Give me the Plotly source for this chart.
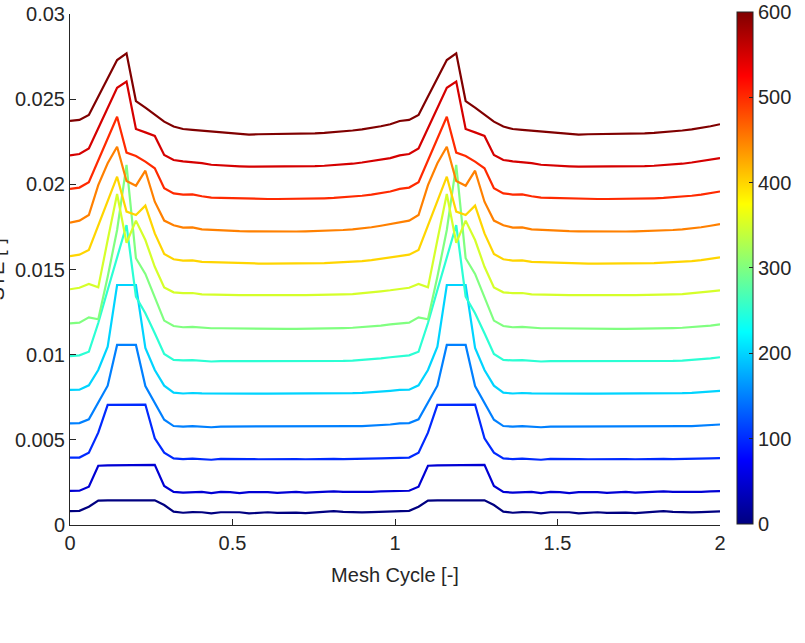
import numpy as np
import plotly.graph_objects as go

# Mesh cycle positions (70 samples over two mesh cycles)
mesh_cycle = list(np.linspace(0, 2, 70))

# Colour-bar quantity for each curve
levels = [0, 50, 100, 150, 200, 250, 300, 350, 400, 450, 500, 550, 600]

ste_000 = [0.00082, 0.00083, 0.00107, 0.00143, 0.00144, 0.00144, 0.00144, 0.00144, 0.00144, 0.00145, 0.00117, 0.00078, 0.00072, 0.00076, 0.00075, 0.00068, 0.00075, 0.00074, 0.00075, 0.00068, 0.00073, 0.00075, 0.00071, 0.00074, 0.00073, 0.00070, 0.00075, 0.00076, 0.00081, 0.00077, 0.00075, 0.00074, 0.00076, 0.00078, 0.00080,
           0.00082, 0.00083, 0.00107, 0.00143, 0.00144, 0.00144, 0.00144, 0.00144, 0.00144, 0.00145, 0.00117, 0.00078, 0.00072, 0.00076, 0.00075, 0.00068, 0.00075, 0.00074, 0.00075, 0.00068, 0.00073, 0.00075, 0.00071, 0.00074, 0.00073, 0.00070, 0.00075, 0.00076, 0.00081, 0.00077, 0.00075, 0.00074, 0.00076, 0.00078, 0.00080]
ste_050 = [0.00200, 0.00201, 0.00225, 0.00348, 0.00350, 0.00351, 0.00351, 0.00352, 0.00352, 0.00353, 0.00229, 0.00194, 0.00190, 0.00194, 0.00194, 0.00187, 0.00194, 0.00193, 0.00187, 0.00193, 0.00195, 0.00193, 0.00189, 0.00193, 0.00194, 0.00190, 0.00193, 0.00195, 0.00197, 0.00194, 0.00193, 0.00193, 0.00195, 0.00197, 0.00199,
           0.00200, 0.00201, 0.00225, 0.00348, 0.00350, 0.00351, 0.00351, 0.00352, 0.00352, 0.00353, 0.00229, 0.00194, 0.00190, 0.00194, 0.00194, 0.00187, 0.00194, 0.00193, 0.00187, 0.00193, 0.00195, 0.00193, 0.00189, 0.00193, 0.00194, 0.00190, 0.00193, 0.00195, 0.00197, 0.00194, 0.00193, 0.00193, 0.00195, 0.00197, 0.00199]
ste_100 = [0.00395, 0.00396, 0.00425, 0.00542, 0.00705, 0.00706, 0.00706, 0.00707, 0.00707, 0.00509, 0.00425, 0.00391, 0.00387, 0.00390, 0.00388, 0.00383, 0.00388, 0.00389, 0.00388, 0.00387, 0.00386, 0.00387, 0.00386, 0.00387, 0.00387, 0.00386, 0.00388, 0.00387, 0.00388, 0.00387, 0.00387, 0.00388, 0.00389, 0.00391, 0.00393,
           0.00395, 0.00396, 0.00425, 0.00542, 0.00705, 0.00706, 0.00706, 0.00707, 0.00707, 0.00509, 0.00425, 0.00391, 0.00387, 0.00390, 0.00388, 0.00383, 0.00388, 0.00389, 0.00388, 0.00387, 0.00386, 0.00387, 0.00386, 0.00387, 0.00387, 0.00386, 0.00388, 0.00387, 0.00388, 0.00387, 0.00387, 0.00388, 0.00389, 0.00391, 0.00393]
ste_150 = [0.00597, 0.00598, 0.00620, 0.00720, 0.00818, 0.01057, 0.01057, 0.01057, 0.00816, 0.00718, 0.00618, 0.00581, 0.00578, 0.00580, 0.00578, 0.00574, 0.00578, 0.00578, 0.00578, 0.00578, 0.00577, 0.00577, 0.00577, 0.00578, 0.00577, 0.00576, 0.00578, 0.00578, 0.00578, 0.00578, 0.00580, 0.00581, 0.00583, 0.00586, 0.00590,
           0.00597, 0.00598, 0.00620, 0.00720, 0.00818, 0.01057, 0.01057, 0.01057, 0.00816, 0.00718, 0.00618, 0.00581, 0.00578, 0.00580, 0.00578, 0.00574, 0.00578, 0.00578, 0.00578, 0.00578, 0.00577, 0.00577, 0.00577, 0.00578, 0.00577, 0.00576, 0.00578, 0.00578, 0.00578, 0.00578, 0.00580, 0.00581, 0.00583, 0.00586, 0.00590]
ste_200 = [0.00793, 0.00794, 0.00820, 0.00910, 0.01047, 0.01409, 0.01409, 0.01409, 0.01040, 0.00910, 0.00818, 0.00777, 0.00772, 0.00775, 0.00773, 0.00772, 0.00772, 0.00772, 0.00772, 0.00771, 0.00771, 0.00771, 0.00771, 0.00771, 0.00771, 0.00770, 0.00771, 0.00772, 0.00772, 0.00773, 0.00774, 0.00776, 0.00779, 0.00783, 0.00788,
           0.00793, 0.00794, 0.00820, 0.00910, 0.01047, 0.01409, 0.01409, 0.01409, 0.01040, 0.00910, 0.00818, 0.00777, 0.00772, 0.00775, 0.00773, 0.00772, 0.00772, 0.00772, 0.00772, 0.00771, 0.00771, 0.00771, 0.00771, 0.00771, 0.00771, 0.00770, 0.00771, 0.00772, 0.00772, 0.00773, 0.00774, 0.00776, 0.00779, 0.00783, 0.00788]
ste_250 = [0.00992, 0.00996, 0.01017, 0.01186, 0.01380, 0.01575, 0.01761, 0.01340, 0.01243, 0.01126, 0.01004, 0.00969, 0.00966, 0.00968, 0.00965, 0.00960, 0.00962, 0.00962, 0.00961, 0.00960, 0.00960, 0.00960, 0.00960, 0.00960, 0.00959, 0.00959, 0.00960, 0.00961, 0.00962, 0.00963, 0.00965, 0.00968, 0.00972, 0.00978, 0.00985,
           0.00992, 0.00996, 0.01017, 0.01186, 0.01380, 0.01575, 0.01761, 0.01340, 0.01243, 0.01126, 0.01004, 0.00969, 0.00966, 0.00968, 0.00965, 0.00960, 0.00962, 0.00962, 0.00961, 0.00960, 0.00960, 0.00960, 0.00960, 0.00960, 0.00959, 0.00959, 0.00960, 0.00961, 0.00962, 0.00963, 0.00965, 0.00968, 0.00972, 0.00978, 0.00985]
ste_300 = [0.01184, 0.01188, 0.01219, 0.01208, 0.01458, 0.01732, 0.02114, 0.01566, 0.01474, 0.01340, 0.01200, 0.01168, 0.01161, 0.01163, 0.01158, 0.01155, 0.01155, 0.01154, 0.01153, 0.01153, 0.01152, 0.01152, 0.01152, 0.01152, 0.01152, 0.01152, 0.01153, 0.01154, 0.01155, 0.01156, 0.01158, 0.01161, 0.01165, 0.01171, 0.01178,
           0.01184, 0.01188, 0.01219, 0.01208, 0.01458, 0.01732, 0.02114, 0.01566, 0.01474, 0.01340, 0.01200, 0.01168, 0.01161, 0.01163, 0.01158, 0.01155, 0.01155, 0.01154, 0.01153, 0.01153, 0.01152, 0.01152, 0.01152, 0.01152, 0.01152, 0.01152, 0.01153, 0.01154, 0.01155, 0.01156, 0.01158, 0.01161, 0.01165, 0.01171, 0.01178]
ste_350 = [0.01384, 0.01393, 0.01415, 0.01395, 0.01673, 0.01943, 0.01657, 0.01787, 0.01673, 0.01516, 0.01395, 0.01366, 0.01361, 0.01362, 0.01354, 0.01352, 0.01352, 0.01351, 0.01350, 0.01350, 0.01349, 0.01349, 0.01349, 0.01349, 0.01349, 0.01350, 0.01350, 0.01351, 0.01352, 0.01354, 0.01356, 0.01360, 0.01365, 0.01372, 0.01378,
           0.01384, 0.01393, 0.01415, 0.01395, 0.01673, 0.01943, 0.01657, 0.01787, 0.01673, 0.01516, 0.01395, 0.01366, 0.01361, 0.01362, 0.01354, 0.01352, 0.01352, 0.01351, 0.01350, 0.01350, 0.01349, 0.01349, 0.01349, 0.01349, 0.01349, 0.01350, 0.01350, 0.01351, 0.01352, 0.01354, 0.01356, 0.01360, 0.01365, 0.01372, 0.01378]
ste_400 = [0.01579, 0.01587, 0.01615, 0.01761, 0.01908, 0.02045, 0.01840, 0.01820, 0.01875, 0.01712, 0.01591, 0.01560, 0.01552, 0.01553, 0.01545, 0.01543, 0.01540, 0.01538, 0.01537, 0.01536, 0.01535, 0.01535, 0.01535, 0.01535, 0.01535, 0.01536, 0.01537, 0.01538, 0.01540, 0.01542, 0.01545, 0.01549, 0.01555, 0.01563, 0.01571,
           0.01579, 0.01587, 0.01615, 0.01761, 0.01908, 0.02045, 0.01840, 0.01820, 0.01875, 0.01712, 0.01591, 0.01560, 0.01552, 0.01553, 0.01545, 0.01543, 0.01540, 0.01538, 0.01537, 0.01536, 0.01535, 0.01535, 0.01535, 0.01535, 0.01535, 0.01536, 0.01537, 0.01538, 0.01540, 0.01542, 0.01545, 0.01549, 0.01555, 0.01563, 0.01571]
ste_450 = [0.01775, 0.01787, 0.01820, 0.01995, 0.02124, 0.02221, 0.02020, 0.01992, 0.02080, 0.01898, 0.01787, 0.01760, 0.01746, 0.01747, 0.01736, 0.01733, 0.01728, 0.01726, 0.01725, 0.01724, 0.01723, 0.01723, 0.01723, 0.01723, 0.01723, 0.01724, 0.01725, 0.01727, 0.01729, 0.01732, 0.01736, 0.01741, 0.01748, 0.01757, 0.01766,
           0.01775, 0.01787, 0.01820, 0.01995, 0.02124, 0.02221, 0.02020, 0.01992, 0.02080, 0.01898, 0.01787, 0.01760, 0.01746, 0.01747, 0.01736, 0.01733, 0.01728, 0.01726, 0.01725, 0.01724, 0.01723, 0.01723, 0.01723, 0.01723, 0.01723, 0.01724, 0.01725, 0.01727, 0.01729, 0.01732, 0.01736, 0.01741, 0.01748, 0.01757, 0.01766]
ste_500 = [0.01973, 0.01981, 0.02012, 0.02141, 0.02268, 0.02397, 0.02186, 0.02166, 0.02133, 0.02094, 0.01977, 0.01947, 0.01940, 0.01941, 0.01930, 0.01922, 0.01920, 0.01918, 0.01916, 0.01915, 0.01914, 0.01914, 0.01914, 0.01914, 0.01914, 0.01915, 0.01916, 0.01918, 0.01920, 0.01923, 0.01927, 0.01933, 0.01940, 0.01949, 0.01958,
           0.01973, 0.01981, 0.02012, 0.02141, 0.02268, 0.02397, 0.02186, 0.02166, 0.02133, 0.02094, 0.01977, 0.01947, 0.01940, 0.01941, 0.01930, 0.01922, 0.01920, 0.01918, 0.01916, 0.01915, 0.01914, 0.01914, 0.01914, 0.01914, 0.01914, 0.01915, 0.01916, 0.01918, 0.01920, 0.01923, 0.01927, 0.01933, 0.01940, 0.01949, 0.01958]
ste_550 = [0.02170, 0.02178, 0.02211, 0.02331, 0.02448, 0.02567, 0.02603, 0.02325, 0.02305, 0.02284, 0.02172, 0.02143, 0.02135, 0.02131, 0.02124, 0.02115, 0.02111, 0.02108, 0.02106, 0.02104, 0.02104, 0.02103, 0.02103, 0.02103, 0.02104, 0.02105, 0.02107, 0.02109, 0.02112, 0.02116, 0.02121, 0.02128, 0.02136, 0.02145, 0.02154,
           0.02170, 0.02178, 0.02211, 0.02331, 0.02448, 0.02567, 0.02603, 0.02325, 0.02305, 0.02284, 0.02172, 0.02143, 0.02135, 0.02131, 0.02124, 0.02115, 0.02111, 0.02108, 0.02106, 0.02104, 0.02104, 0.02103, 0.02103, 0.02103, 0.02104, 0.02105, 0.02107, 0.02109, 0.02112, 0.02116, 0.02121, 0.02128, 0.02136, 0.02145, 0.02154]
ste_600 = [0.02372, 0.02378, 0.02407, 0.02515, 0.02622, 0.02730, 0.02769, 0.02489, 0.02450, 0.02411, 0.02368, 0.02339, 0.02325, 0.02320, 0.02315, 0.02310, 0.02304, 0.02300, 0.02298, 0.02292, 0.02294, 0.02295, 0.02294, 0.02293, 0.02295, 0.02297, 0.02299, 0.02302, 0.02306, 0.02311, 0.02316, 0.02323, 0.02331, 0.02341, 0.02353,
           0.02372, 0.02378, 0.02407, 0.02515, 0.02622, 0.02730, 0.02769, 0.02489, 0.02450, 0.02411, 0.02368, 0.02339, 0.02325, 0.02320, 0.02315, 0.02310, 0.02304, 0.02300, 0.02298, 0.02292, 0.02294, 0.02295, 0.02294, 0.02293, 0.02295, 0.02297, 0.02299, 0.02302, 0.02306, 0.02311, 0.02316, 0.02323, 0.02331, 0.02341, 0.02353]

series = [ste_000, ste_050, ste_100, ste_150, ste_200, ste_250, ste_300,
          ste_350, ste_400, ste_450, ste_500, ste_550, ste_600]

x_ticks = [0, 0.5, 1, 1.5, 2]
x_ticktext = ["0", "0.5", "1", "1.5", "2"]
y_ticks = [0, 0.005, 0.01, 0.015, 0.02, 0.025, 0.03]
y_ticktext = ["0", "0.005", "0.01", "0.015", "0.02", "0.025", "0.03"]
cbar_ticks = [0, 100, 200, 300, 400, 500, 600]

CMIN, CMAX = 0, 600


def jet_rgb(t):
    r = min(max(1.5 - abs(4 * t - 3), 0), 1)
    g = min(max(1.5 - abs(4 * t - 2), 0), 1)
    b = min(max(1.5 - abs(4 * t - 1), 0), 1)
    return "rgb(%d,%d,%d)" % (round(r * 255), round(g * 255), round(b * 255))


jet_scale = [[0.0, "rgb(0,0,128)"], [0.125, "rgb(0,0,255)"], [0.375, "rgb(0,255,255)"],
             [0.625, "rgb(255,255,0)"], [0.875, "rgb(255,0,0)"], [1.0, "rgb(128,0,0)"]]

FONT = "Liberation Sans, Arial, Helvetica, sans-serif"
TXT = "#262626"
FS = 20

fig = go.Figure()
for lev, ys in zip(levels, series):
    fig.add_trace(go.Scatter(
        x=mesh_cycle, y=ys, mode="lines",
        line=dict(color=jet_rgb((lev - CMIN) / (CMAX - CMIN)), width=2.2),
        showlegend=False, hoverinfo="skip"))

# colour bar carrier
fig.add_trace(go.Scatter(
    x=[-1], y=[-1], mode="markers", showlegend=False, hoverinfo="skip",
    marker=dict(color=[0], colorscale=jet_scale, cmin=CMIN, cmax=CMAX, size=1,
                showscale=True,
                colorbar=dict(
                    x=1.026, xanchor="left", xref="paper",
                    y=1.004, yanchor="top",
                    lenmode="pixels", len=512,
                    thicknessmode="pixels", thickness=16,
                    outlinewidth=1, outlinecolor="#262626",
                    tickmode="array", tickvals=cbar_ticks,
                    ticks="inside", ticklen=4, tickcolor="#262626",
                    tickfont=dict(family=FONT, size=FS, color=TXT),
                    xpad=0, ypad=0))))

fig.update_layout(
    width=805, height=643,
    margin=dict(l=70, r=85, t=14, b=118, autoexpand=False),
    paper_bgcolor="white", plot_bgcolor="white",
    font=dict(family=FONT, size=FS, color=TXT),
    xaxis=dict(range=[0, 2], tickvals=x_ticks, ticktext=x_ticktext,
               showgrid=False, zeroline=False, showline=True, linecolor="#262626",
               linewidth=1, ticks="inside", ticklen=6, tickcolor="#262626",
               tickfont=dict(size=FS, color=TXT),
               title=dict(text="Mesh Cycle [-]", font=dict(size=FS, color=TXT), standoff=14)),
    yaxis=dict(range=[0, 0.03], tickvals=y_ticks, ticktext=y_ticktext,
               showgrid=False, zeroline=False, showline=True, linecolor="#262626",
               linewidth=1, ticks="inside", ticklen=6, tickcolor="#262626",
               tickfont=dict(size=FS, color=TXT)),
    annotations=[dict(text="STE [-]", textangle=-90, xref="paper", yref="paper",
                      x=(9 - 70) / 650, y=0.5, xanchor="right", yanchor="middle",
                      showarrow=False, font=dict(family=FONT, size=FS, color=TXT))],
)

fig.write_html("out.html")
